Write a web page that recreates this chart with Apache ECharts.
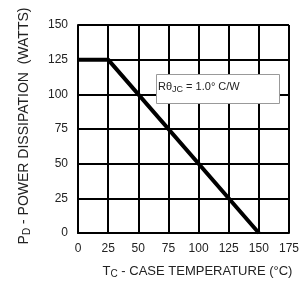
<!DOCTYPE html>
<html><head><meta charset="utf-8">
<script src="https://cdn.jsdelivr.net/npm/echarts@6/dist/echarts.min.js"></script>
<style>html,body{margin:0;padding:0;background:#fff}#c{width:302px;height:284px}</style>
</head><body><div id="c"></div>
<script>
const tempC = [0, 25, 150];
const powerW = [125, 125, 0];
const xTicks = [0, 25, 50, 75, 100, 125, 150, 175];
const yTicks = [0, 25, 50, 75, 100, 125, 150];
const FONT = '"Liberation Sans", Arial, sans-serif';
const chart = echarts.init(document.getElementById('c'));
chart.setOption({
  animation: false,
  grid: {left: 78, top: 25, right: 13, bottom: 46, show: false},
  xAxis: {
    type: 'value', min: 0, max: 175, interval: 25,
    axisLine: {show: true, onZero: false, lineStyle: {color: '#000', width: 2}},
    axisTick: {show: false},
    splitLine: {show: true, lineStyle: {color: '#000', width: 2}},
    axisLabel: {color: '#222', fontFamily: FONT, fontSize: 12, margin: 10},
    name: '{m|T}{s|C}{m| - CASE TEMPERATURE (°C)}',
    nameLocation: 'middle', nameGap: 30,
    nameTextStyle: {padding: [0, 0, 0, 28], rich: {
      m: {fontFamily: FONT, fontSize: 13, color: '#222'},
      s: {fontFamily: FONT, fontSize: 10, color: '#222', verticalAlign: 'bottom', padding: [6,0,0,0]}
    }}
  },
  yAxis: {
    type: 'value', min: 0, max: 150, interval: 25,
    axisLine: {show: true, onZero: false, lineStyle: {color: '#000', width: 2}},
    axisTick: {show: false},
    splitLine: {show: true, lineStyle: {color: '#000', width: 2}},
    axisLabel: {color: '#222', fontFamily: FONT, fontSize: 12, margin: 10},
    name: '{m|P}{s|D}{m| - POWER DISSIPATION  (WATTS)}',
    nameLocation: 'middle', nameGap: 46,
    nameTextStyle: {padding: [0, 0, 0, 6], rich: {
      m: {fontFamily: FONT, fontSize: 14, color: '#222'},
      s: {fontFamily: FONT, fontSize: 10, color: '#222', verticalAlign: 'bottom', padding: [6,0,0,0]}
    }}
  },
  series: [{
    type: 'line', data: tempC.map((t, i) => [t, powerW[i]]),
    symbol: 'none', lineStyle: {color: '#000', width: 4}, z: 5
  }],
  graphic: [{
    type: 'rect', left: 156, top: 74, z: 10,
    shape: {width: 123, height: 29},
    style: {fill: '#fff', stroke: '#999', lineWidth: 1}
  }, {
    type: 'text', left: 158, top: 81, z: 11,
    style: {
      text: '{m|Rθ}{s|JC}{m| = 1.0° C/W}',
      rich: {
        m: {fontFamily: FONT, fontSize: 11, fill: '#222'},
        s: {fontFamily: FONT, fontSize: 9, fill: '#222', verticalAlign: 'bottom', padding: [6,0,0,0]}
      }
    }
  }]
});
</script></body></html>
